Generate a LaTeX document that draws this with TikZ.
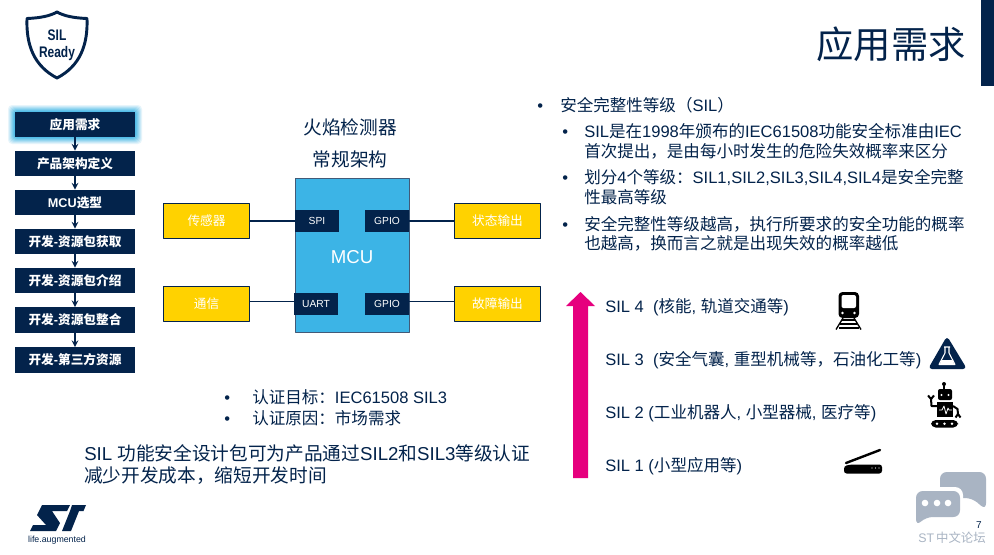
\documentclass[tikz,border=0pt]{standalone}
\usepackage{fontspec}
\setmainfont{Liberation Sans}
\newfontfamily\cjk{Noto Sans CJK SC}
\newcommand{\zh}[1]{{\cjk #1}}
\newcommand{\fs}[1]{\fontsize{#1}{#1}\selectfont}
\definecolor{stnavy}{HTML}{03234B}
\definecolor{stsky}{HTML}{3CB4E6}
\definecolor{styellow}{HTML}{FFD200}
\definecolor{stpink}{HTML}{E6007E}
\definecolor{stgrey}{HTML}{A9B4C3}
\tikzset{
	menubox/.style={fill=stnavy,text=white,font=\fs{9.5}\bfseries,minimum width=90pt,minimum height=19pt,inner sep=0pt},
	yellowbox/.style={fill=styellow,draw=stnavy,line width=0.75pt,text=white,font=\fs{9.5},minimum width=65pt,minimum height=26pt,inner sep=0pt},
	portbox/.style={fill=stnavy,text=white,font=\fs{7.7},minimum width=33pt,minimum height=16.5pt,inner sep=0pt},
	bodytext/.style={anchor=base west,text=stnavy,font=\fs{12.4},inner sep=0pt},
	bigtext/.style={anchor=base west,text=stnavy,font=\fs{14},inner sep=0pt},
	link/.style={stnavy,line width=1.1pt},
}
\begin{document}
\begin{tikzpicture}[x=0.75pt,y=-0.75pt,>=stealth,line join=round]
	\useasboundingbox (0,0) rectangle (994,554);
	\fill[white] (0,0) rectangle (994,554);
	\fill[stnavy] (981,0) rectangle (994,86);
	\node[anchor=east,text=stnavy,font=\fs{28},inner sep=0pt] (title) at (966,44) {\zh{应用需求}};
	% shield
	\draw[stnavy,line width=2.2pt] (27,18.5) .. controls (40,18) and (50,16) .. (57,12) .. controls (64,16) and (74,18) .. (87,18.5)
		.. controls (88,45) and (80,66) .. (57,78) .. controls (34,66) and (26,45) .. (27,18.5) -- cycle;
	\node[text=stnavy,font=\fs{11.5}\bfseries,xscale=.78] (silword) at (57,35) {SIL};
	\node[text=stnavy,font=\fs{11.5}\bfseries,xscale=.78] (readyword) at (57,54) {Ready};
	% menu
	\foreach \g/\o in {7/.12,6/.14,5/.18,4/.22,3/.28,2/.35,1/.45}
		\fill[stsky,opacity=\o,rounded corners=3pt] (15-\g,112-\g) rectangle (135+\g,137+\g);
	\foreach \i/\y/\t in {1/124.5/\zh{应用需求},2/163.5/\zh{产品架构定义},3/202.5/MCU\zh{选型},4/241.5/\zh{开发}-\zh{资源包获取},
		5/280.5/\zh{开发}-\zh{资源包介绍},6/320/\zh{开发}-\zh{资源包整合},7/360/\zh{开发}-\zh{第三方资源}}
		\node[menubox] (menu\i) at (75,\y) {\t};
	\foreach \i/\j in {1/2,2/3,3/4,4/5,5/6,6/7}
		\draw[->,stnavy,line width=1.2pt] (menu\i)--(menu\j);
	% mcu
	\node[text=stnavy,font=\fs{14},inner sep=0pt] (flame) at (350,127) {\zh{火焰检测器}};
	\node[text=stnavy,font=\fs{14},inner sep=0pt] (arch) at (350,159) {\zh{常规架构}};
	\node[fill=stsky,draw=stnavy!75,line width=0.75pt,minimum width=85.5pt,minimum height=115pt,inner sep=0pt] (mcu) at (352,255.5) {};
	\node[text=white,font=\fs{14},inner sep=0pt] (mcuword) at (352,257) {MCU};
	\node[portbox] (spi) at (317,221) {SPI};
	\node[portbox] (gpioa) at (387,221) {GPIO};
	\node[portbox] (uart) at (316,304) {UART};
	\node[portbox] (gpiob) at (387,304) {GPIO};
	\node[yellowbox] (sensor) at (206.5,221) {\zh{传感器}};
	\node[yellowbox] (comm) at (206.5,304) {\zh{通信}};
	\node[yellowbox] (status) at (497.5,221) {\zh{状态输出}};
	\node[yellowbox] (fault) at (497.5,304) {\zh{故障输出}};
	\draw[link] (sensor)--(spi);
	\draw[link] ([yshift=1.9pt]comm.east)--([yshift=1.9pt]uart.west);
	\draw[link] (gpioa)--(status);
	\draw[link] ([yshift=1.9pt]gpiob.east)--([yshift=1.9pt]fault.west);
	% under the mcu
	\node[bodytext] (dota) at (224,403) {•};
	\node[bodytext] (dotb) at (224,424) {•};
	\node[bodytext] (goal) at (252,403) {\zh{认证目标：}IEC61508 SIL3};
	\node[bodytext] (why) at (252,424) {\zh{认证原因：市场需求}};
	\node[bigtext] (packa) at (84,460) {SIL \zh{功能安全设计包可为产品通过}SIL2\zh{和}SIL3\zh{等级认证}};
	\node[bigtext] (packb) at (84,482) {\zh{减少开发成本，缩短开发时间}};
	% right text
	\node[bodytext] (dotc) at (537,111) {•};
	\node[bodytext] (headline) at (560,111) {\zh{安全完整性等级（}SIL\zh{）}};
	\node[bodytext] (dotd) at (562,137) {•};
	\node[bodytext] (linea) at (584,137) {SIL\zh{是在}1998\zh{年颁布的}IEC61508\zh{功能安全标准由}IEC};
	\node[bodytext] (lineb) at (584,157) {\zh{首次提出，是由每小时发生的危险失效概率来区分}};
	\node[bodytext] (dote) at (562,183) {•};
	\node[bodytext] (linec) at (584,183) {\zh{划分}4\zh{个等级：}SIL1,SIL2,SIL3,SIL4,SIL4\zh{是安全完整}};
	\node[bodytext] (lined) at (584,203) {\zh{性最高等级}};
	\node[bodytext] (dotf) at (562,230) {•};
	\node[bodytext] (linee) at (584,230) {\zh{安全完整性等级越高，执行所要求的安全功能的概率}};
	\node[bodytext] (linef) at (584,249) {\zh{也越高，换而言之就是出现失效的概率越低}};
	% levels
	\fill[stpink] (573,478) -- (573,306) -- (566,306) -- (580.5,292) -- (595,306) -- (588,306) -- (588,478) -- cycle;
	\node[bodytext] (silfour) at (605,312) {SIL 4~~(\zh{核能}, \zh{轨道交通等})};
	\node[bodytext] (silthree) at (605,365) {SIL 3~~(\zh{安全气囊}, \zh{重型机械等，石油化工等})};
	\node[bodytext] (siltwo) at (605,418) {SIL 2 (\zh{工业机器人}, \zh{小型器械}, \zh{医疗等})};
	\node[bodytext] (silone) at (605,471) {SIL 1 (\zh{小型应用等})};
	% train
	\fill[black,rounded corners=3pt] (838.5,292) rectangle (859,318);
	\fill[white,rounded corners=1.5pt] (841.5,295) rectangle (856,308);
	\fill[white] (842.5,313) circle (1.3) (854.5,313) circle (1.3);
	\draw[black,line width=1pt] (843,318) -- (836,329.5) (854,318) -- (861,329.5);
	\draw[black,line width=0.8pt] (842,320) -- (855,320) (840,324) -- (857,324) (838.5,328) -- (858.5,328);
	% flask
	\fill[stnavy,rounded corners=3pt] (947,336) -- (967,369) -- (928,369) -- cycle;
	\draw[white,line width=0.8pt] (944,347) -- (950,347) (945,347) -- (945,353) -- (939,364.5) -- (955,364.5) -- (949,353) -- (949,347);
	\fill[white] (941.5,360) -- (952.5,360) -- (954,364) -- (940,364) -- cycle;
	% robot
	\fill[black] (944,384) circle (2);
	\draw[black,line width=1.2pt] (944,384) -- (944,390);
	\fill[black,rounded corners=1.5pt] (938,389) rectangle (952,400);
	\fill[white] (941.5,395) circle (1.2) (948.5,395) circle (1.2);
	\fill[black] (937,402) rectangle (953,417);
	\draw[white,line width=0.6pt] (939,410) -- (942,410) -- (944,406) -- (946,414) -- (948,408) -- (949,410) -- (952,410);
	\draw[black,line width=1.5pt] (937,406) -- (931.5,406) -- (931,399);
	\draw[black,line width=1.5pt] (928,395.5) -- (931,399) -- (934,395.5);
	\draw[black,line width=1.5pt] (953,406) -- (957.5,409) -- (958,414);
	\draw[black,line width=1.5pt] (955.5,417.5) -- (958,414) -- (960.5,417.5);
	\fill[black,rounded corners=3.5pt] (931,420) rectangle (958,427.5);
	\fill[white] (937,423.8) circle (1.4) (944.5,423.8) circle (1.4) (952,423.8) circle (1.4);
	% scanner
	\draw[black,line width=1.8pt,line cap=round] (846,463) -- (880,450);
	\fill[black,rounded corners=2pt] (844,473.5) -- (844,466) -- (851,464.5) -- (882,464.5) -- (882,473.5) -- cycle;
	\fill[white] (872,468) circle (0.7) (875.5,468) circle (0.7) (879,468) circle (0.7);
	% chat bubbles
	\fill[stgrey,rounded corners=5pt] (940,472) -- (986,472) -- (986,510) -- (972,498) -- (940,498) -- cycle;
	\fill[white,rounded corners=6pt] (913,487) rectangle (963,521);
	\fill[stgrey,rounded corners=5pt] (916,491) -- (960,491) -- (960,517) -- (926,517) -- (916,526) -- cycle;
	\fill[white] (925,503) circle (3.3) (937,503) circle (3.3) (948,503) circle (3.3);
	% logo
	\fill[stnavy] (42,505) -- (70,505) -- (67,511) -- (52,511) -- (60,523) -- (56,531) -- (30,531) -- (33,525) -- (46,525) -- (37,515) -- cycle;
	\fill[stnavy] (72,505) -- (86,505) -- (83.5,511) -- (79,511) -- (71,531) -- (62,531) -- (70,511) -- cycle;
	\node[text=stnavy,font=\fs{6.6},inner sep=0pt] (tagline) at (57,540) {life.augmented};
	% footer
	\node[text=stnavy,font=\fs{7.5},inner sep=0pt] (pagenum) at (979,525) {7};
	\node[text=stgrey,font=\fs{9.3},inner sep=0pt] (forum) at (952,538) {ST\,\zh{中文论坛}};
\end{tikzpicture}
\end{document}
